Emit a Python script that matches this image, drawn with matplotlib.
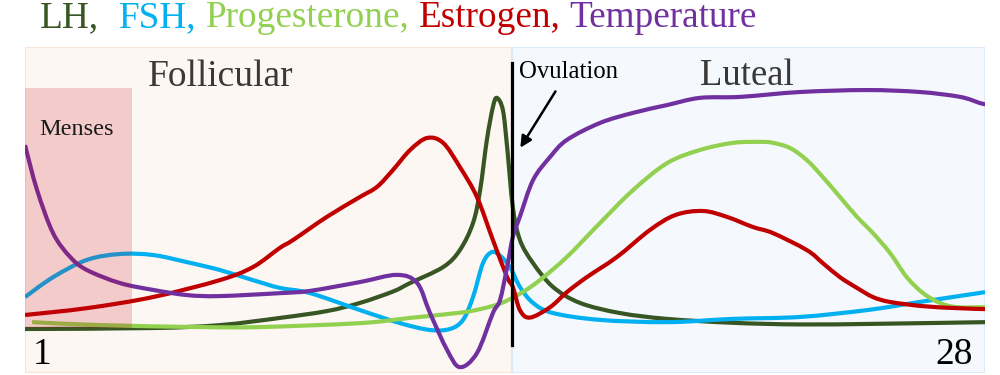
import numpy as np
import matplotlib
matplotlib.use("Agg")
from matplotlib import pyplot as plt
from matplotlib.patches import Rectangle, PathPatch
from matplotlib.path import Path

plt.rcParams['font.family'] = ['Liberation Serif', 'DejaVu Serif']

# cycle day vs relative level (0-100)
lh_day = [1.0, 4.6, 6.48, 8.17, 9.49, 10.42, 11.35, 11.83, 12.76, 13.23, 13.6, 13.8, 13.99, 14.16,
          14.27, 14.44, 14.56, 14.72, 14.92, 15.29, 15.85, 16.61, 17.73, 19.06, 20.91, 22.8,
          25.0, 28.0]
lh_val = [13.5, 13.8, 14.7, 16.9, 19.0, 21.5, 25.0, 27.6, 32.5, 37.7, 46.0, 56.1, 71.5, 81.6,
          84.4, 80.7, 69.3, 50.9, 40.8, 33.7, 26.4, 21.5, 18.4, 16.6, 15.4, 14.9,
          15.1, 15.6]

fsh_day = [1.0, 1.79, 2.74, 3.67, 4.6, 5.56, 6.48, 7.41, 8.17, 9.02, 10.42, 11.55, 12.39, 12.95,
           13.32, 13.6, 13.88, 14.13, 14.36, 14.64, 14.92, 15.29, 15.85, 17.17, 19.06, 20.91,
           22.8, 24.68, 26.17, 28.0]
fsh_val = [23.3, 29.4, 34.7, 36.5, 36.2, 34.0, 31.6, 28.5, 26.1, 24.5, 19.3, 15.3, 13.2, 13.5,
           16.3, 23.3, 33.7, 37.1, 36.0, 32.5, 26.4, 21.5, 18.4, 16.3, 15.6, 16.6,
           17.2, 19.3, 21.8, 24.8]

prog_day = [1.2, 3.11, 5.92, 7.61, 10.42, 11.83, 13.23, 13.8, 14.36, 14.92, 15.48, 16.24, 17.17,
            18.1, 19.06, 19.98, 20.91, 21.67, 22.04, 22.52, 22.99, 23.44, 23.92, 24.4, 24.85,
            25.33, 25.8, 26.26, 26.73, 27.21, 28.0]
prog_val = [15.6, 14.7, 14.1, 14.1, 15.3, 16.9, 18.5, 19.6, 21.3, 24.3, 28.5, 35.6, 46.0,
            56.1, 64.4, 68.4, 70.6, 70.9, 70.6, 69.0, 65.3, 60.1, 54.0, 47.9, 42.9,
            36.8, 29.4, 24.5, 21.5, 20.2, 20.2]

est_day = [1.0, 2.74, 4.6, 6.48, 7.41, 8.17, 8.54, 9.49, 10.42, 10.9, 11.35, 11.83, 12.31, 12.76,
           13.23, 13.71, 14.16, 14.56, 14.72, 14.92, 15.2, 15.77, 16.24, 16.8, 17.65, 18.58,
           19.3, 20.07, 20.74, 21.47, 22.04, 22.99, 23.44, 23.92, 24.4, 24.85, 25.33, 26.26,
           27.21, 28.0]
est_val = [17.8, 19.9, 23.3, 28.5, 32.5, 38.4, 40.8, 47.9, 54.0, 57.1, 62.3, 68.4, 72.1, 70.6,
           63.2, 54.0, 40.8, 29.4, 26.4, 19.3, 17.0, 20.2, 24.8, 29.4, 35.6, 43.9,
           48.5, 49.7, 47.9, 44.8, 42.9, 37.7, 33.7, 29.4, 26.1, 23.3, 21.8, 20.5,
           19.9, 19.6]

temp_day = [1.0, 1.34, 1.79, 2.27, 2.74, 3.67, 4.6, 5.56, 6.48, 8.17, 9.02, 10.42, 11.46, 12.03,
            12.39, 12.87, 13.23, 13.71, 14.16, 14.36, 14.56, 14.72, 14.92, 15.29, 15.77, 16.24,
            17.17, 18.1, 19.06, 19.98, 21.11, 22.8, 24.68, 26.17, 27.3, 27.86, 28.0]
temp_val = [69.9, 56.1, 42.9, 35.6, 31.6, 27.6, 25.5, 23.9, 23.6, 24.5, 25.2, 27.9, 30.1, 27.6,
            18.4, 7.1, 1.8, 6.1, 18.4, 22.4, 32.5, 41.7, 48.0, 59.2, 66.3, 71.5,
            76.7, 79.8, 82.2, 84.4, 84.7, 86.2, 86.8, 86.2, 84.7, 82.8, 82.5]

ovulation_day = 14.7
menses_end = 4.0

series = [
    ("LH", lh_day, lh_val, "#375623"),
    ("FSH", fsh_day, fsh_val, "#00B0F0"),
    ("Progesterone", prog_day, prog_val, "#92D050"),
    ("Estrogen", est_day, est_val, "#C00000"),
    ("Temperature", temp_day, temp_val, "#7030A0"),
]


def smooth_path(xs, ys):
    # catmull-rom through the read points, drawn as cubic bezier segments
    p = np.column_stack([xs, ys]).astype(float)
    verts = [p[0]]
    codes = [Path.MOVETO]
    n = len(p)
    for i in range(n - 1):
        p0 = p[max(i - 1, 0)]
        p1, p2 = p[i], p[i + 1]
        p3 = p[min(i + 2, n - 1)]
        verts += [p1 + (p2 - p0) / 6, p2 - (p3 - p1) / 6, p2]
        codes += [Path.CURVE4] * 3
    return Path(verts, codes)


fig = plt.figure(figsize=(10, 3.75), dpi=100)
ax = fig.add_axes([0.025, 0.0053, 0.96, 0.8693])
ax.set_xlim(1, 28)
ax.set_ylim(0, 100)
ax.axis("off")

# phase backgrounds
ax.add_patch(Rectangle((1, 0), ovulation_day - 1, 100, facecolor="#FDF7F3",
                       edgecolor="#FBE3D6", lw=1.5, zorder=0))
ax.add_patch(Rectangle((ovulation_day, 0), 28 - ovulation_day, 100, facecolor="#F5F9FD",
                       edgecolor="#DDE9F6", lw=1.5, zorder=0))

for name, d, v, c in series:
    ax.add_patch(PathPatch(smooth_path(d, v), facecolor="none", edgecolor=c, lw=3,
                           capstyle="butt", joinstyle="round", zorder=2))

# menses overlay (semi transparent, on top of curves)
ax.add_patch(Rectangle((1, 13.8), menses_end - 1, 73.6, facecolor="#C80517",
                       alpha=0.18, lw=0, zorder=3))

ax.plot([ovulation_day, ovulation_day], [8.6, 95.1], color="black", lw=2.3, zorder=4)
ax.annotate("", xy=(14.89, 68.4), xytext=(15.96, 87.1),
            arrowprops=dict(arrowstyle="-|>", color="black", lw=1.8, mutation_scale=17), zorder=5)

ax.text(14.89, 90.5, "Ovulation", fontsize=17.8, color="black", zorder=5)
ax.text(4.46, 88.0, "Follicular", fontsize=27, color="#3B3838")
ax.text(19.98, 88.3, "Luteal", fontsize=26.5, color="#3B3838")
ax.text(1.39, 73.0, "Menses", fontsize=17.5, color="#1A1A1A", zorder=5)
ax.text(1.22, 0.3, "1", fontsize=27, color="black", va="bottom")
ax.text(27.66, 0.3, "28", fontsize=27, color="black", ha="right", va="bottom")

# coloured title, word by word
renderer = fig.canvas.get_renderer()
x = 0.04
for i, (name, d, v, c) in enumerate(series):
    label = name + ("," if i < len(series) - 1 else "")
    t = fig.text(x, 0.928, label, fontsize=26.8, color=c)
    bb = t.get_window_extent(renderer)
    gap = 20 if i == 0 else 9
    x = (bb.x1 + gap) / fig.bbox.width

fig.savefig("out.png", dpi=100)
